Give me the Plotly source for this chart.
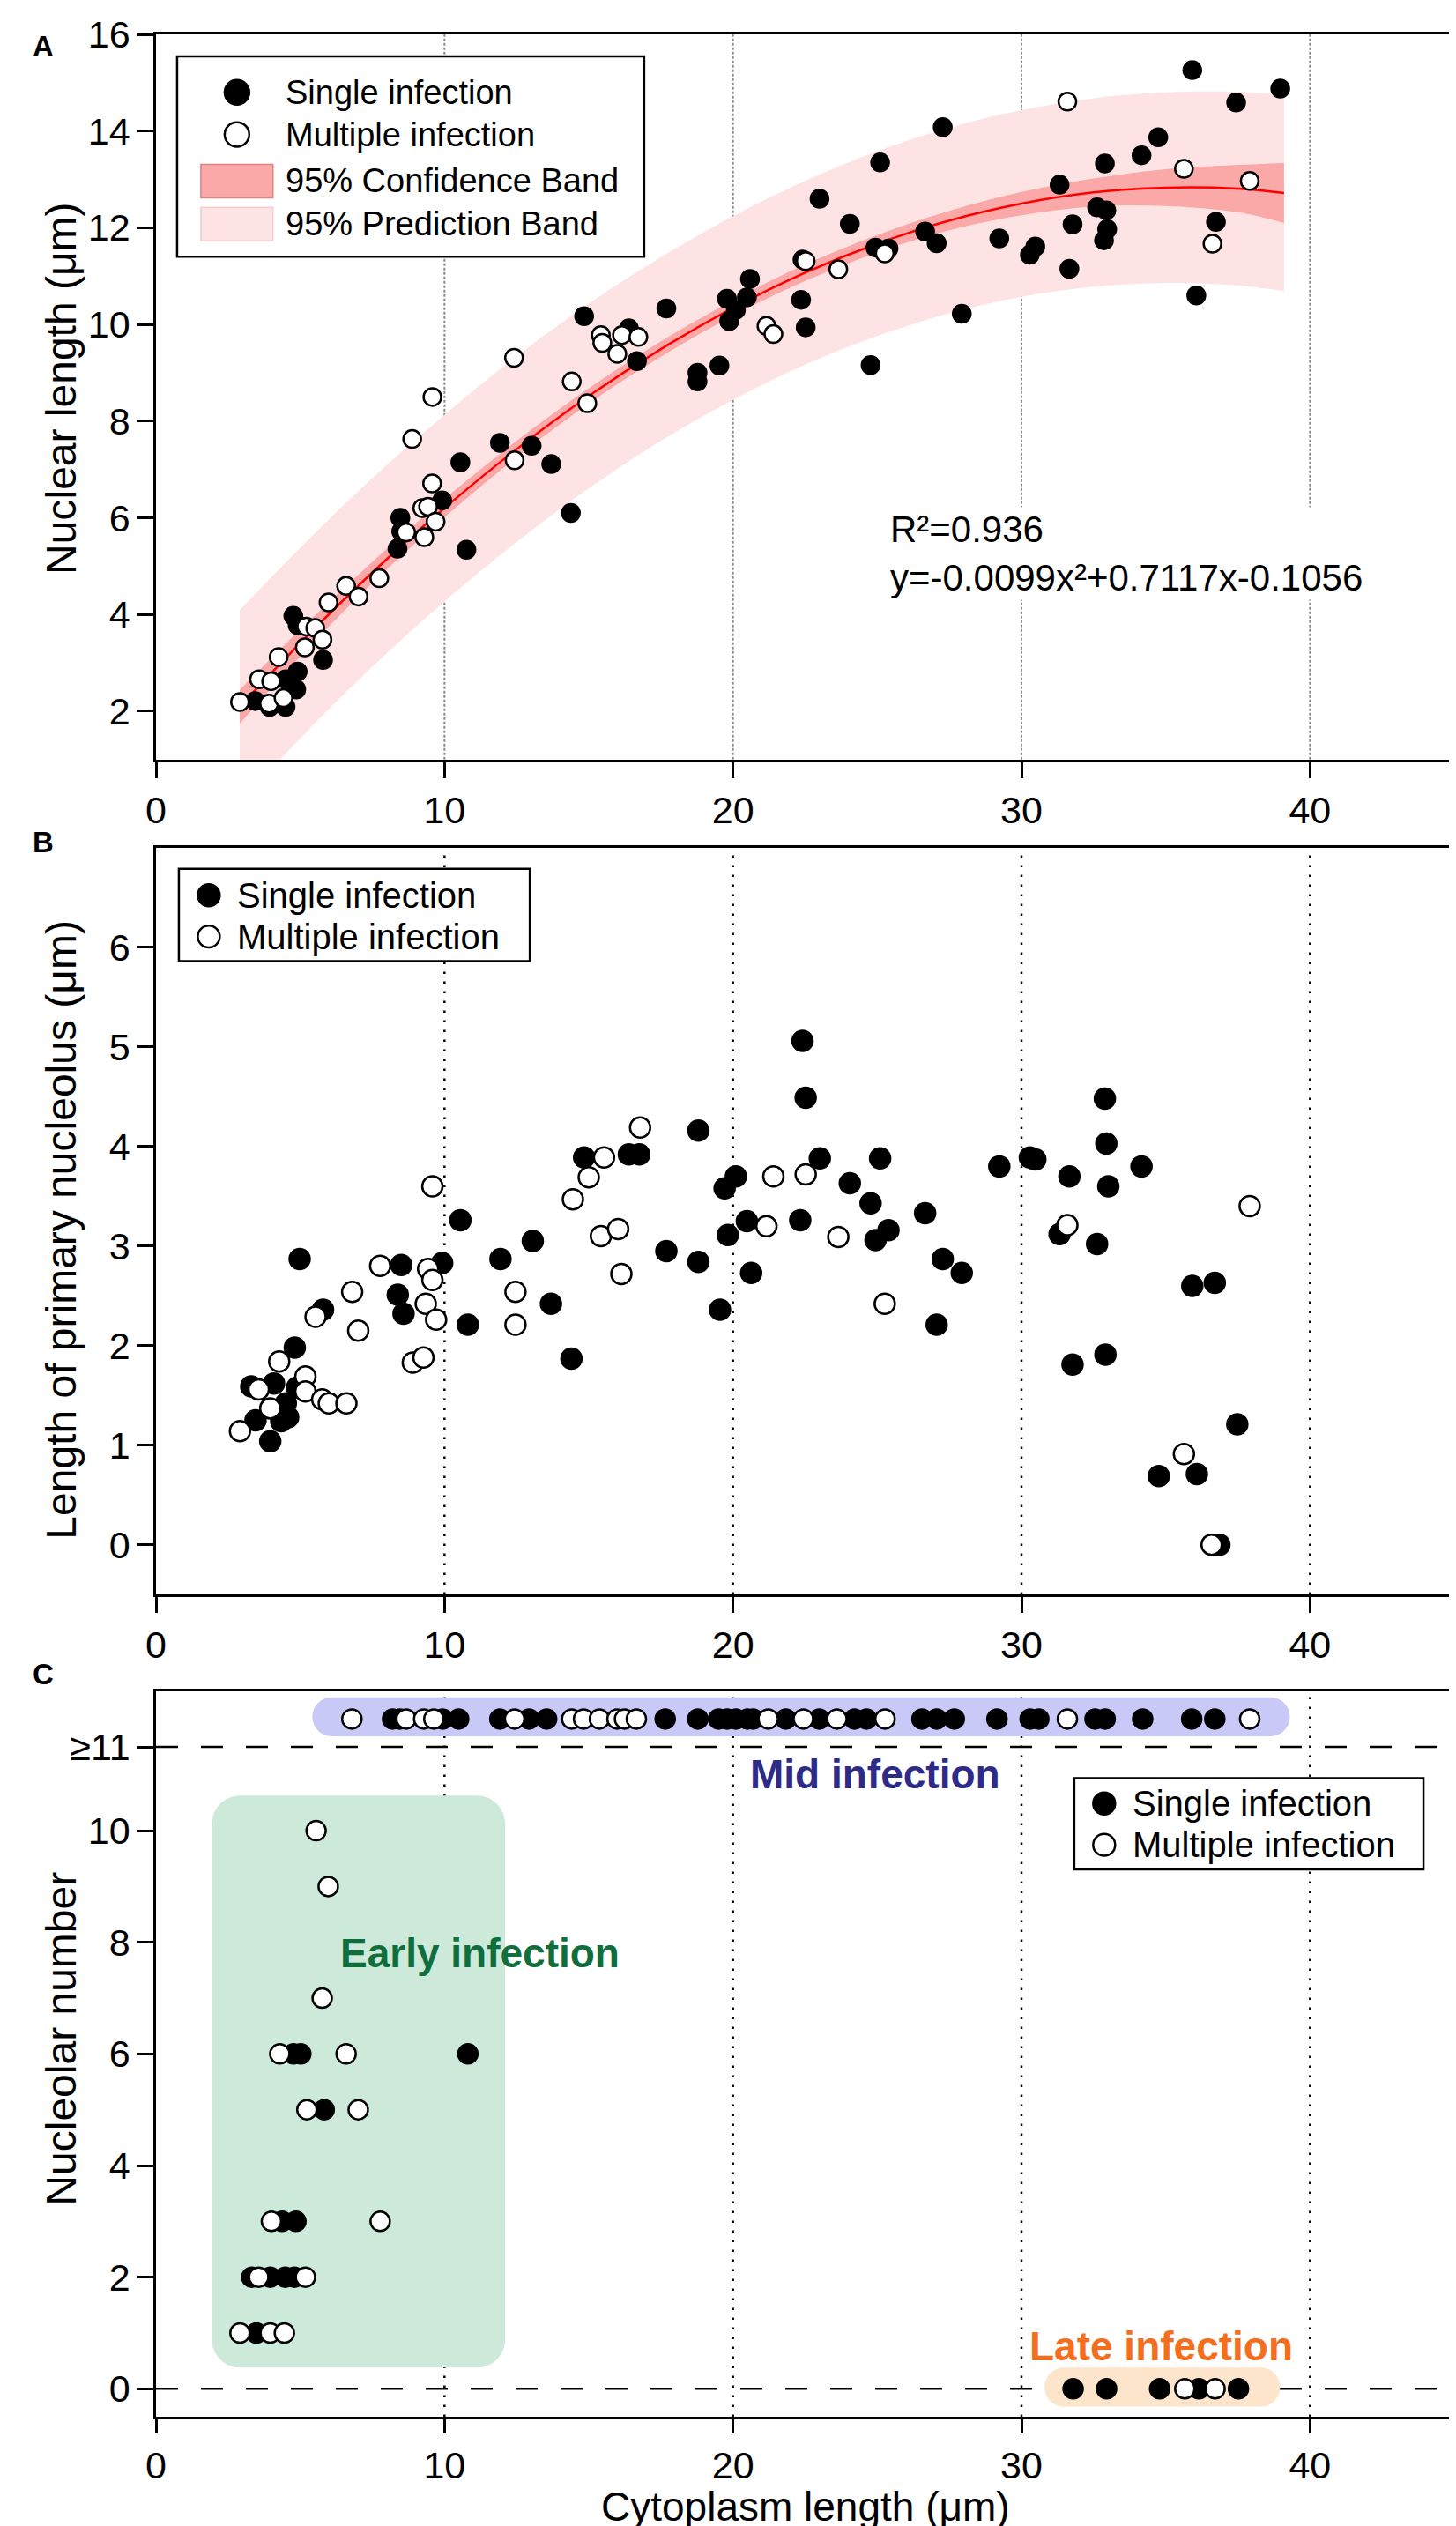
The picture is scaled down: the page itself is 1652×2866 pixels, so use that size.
import plotly.graph_objects as go

FONT = "Liberation Sans, Arial, sans-serif"

# ---------------- panel A : nuclear length vs cytoplasm length ----------------
a_single_x = [3.44, 3.94, 4.49, 4.50, 4.86, 4.91, 4.76, 4.91, 5.79, 8.37, 8.47, 8.50, 9.92, 10.55,
              10.76, 11.92, 13.02, 13.70, 14.38, 14.84, 16.39, 16.67, 17.69, 18.77, 18.77, 19.53,
              19.79, 19.87, 20.10, 20.48, 20.59, 22.36, 22.41, 22.52, 23.00, 24.05, 24.77, 24.94,
              25.10, 25.39, 26.66, 27.06, 27.27, 27.93, 29.23, 30.29, 30.48, 31.32, 31.66, 31.77,
              32.62, 32.86, 32.89, 32.94, 32.97, 34.16, 34.74, 35.92, 36.06, 36.74, 37.44, 38.97]
a_single_y = [2.21, 2.09, 2.09, 2.66, 2.45, 2.82, 3.97, 3.78, 3.06, 5.36, 6.00, 5.72, 6.36, 7.15,
              5.34, 7.55, 7.49, 7.11, 6.10, 10.17, 9.92, 9.24, 10.33, 9.00, 8.82, 9.15,
              10.53, 10.07, 10.30, 10.56, 10.94, 10.51, 11.34, 9.94, 12.60, 12.08, 9.16, 11.59,
              13.35, 11.57, 11.92, 11.68, 14.08, 10.22, 11.78, 11.44, 11.61, 12.89, 11.15, 12.07,
              12.42, 11.74, 13.33, 12.36, 11.97, 13.50, 13.87, 15.26, 10.60, 12.12, 14.59, 14.88]
a_multi_x = [2.91, 3.57, 3.99, 3.92, 4.42, 4.25, 5.16, 5.21, 5.52, 5.77, 5.98, 6.59, 7.02, 7.74,
             8.67, 8.88, 9.30, 9.23, 9.43, 9.58, 9.57, 9.69, 12.41, 12.43, 14.41, 14.95, 15.42,
             15.47, 15.99, 16.15, 16.72, 21.16, 21.40, 22.52, 23.65, 25.26, 31.59, 35.63, 36.62, 37.91]
a_multi_y = [2.19, 2.66, 2.62, 2.16, 2.27, 3.12, 3.32, 3.75, 3.72, 3.48, 4.25, 4.59, 4.37, 4.75,
             5.70, 7.63, 5.60, 6.20, 6.23, 8.50, 6.71, 5.92, 9.31, 7.19, 8.82, 8.37, 9.78,
             9.62, 9.39, 9.78, 9.74, 9.97, 9.80, 11.31, 11.14, 11.47, 14.61, 13.22, 11.67, 12.97]

# fitted curve and 95% bands
band_x = [2.9, 5, 7.5, 10, 12.5, 15, 17.5, 20, 22.5, 25, 27.5, 30, 32.5, 35, 37.5, 39.1]
fit_y = [2.09, 3.41, 4.87, 6.20, 7.42, 8.52, 9.49, 10.34, 11.07, 11.67, 12.15, 12.50, 12.73, 12.83, 12.81, 12.72]
conf_lo = [1.74, 3.13, 4.65, 6.01, 7.25, 8.36, 9.33, 10.18, 10.90, 11.49, 11.95, 12.26, 12.44, 12.45, 12.32, 12.10]
conf_hi = [2.44, 3.69, 5.09, 6.39, 7.59, 8.68, 9.65, 10.50, 11.24, 11.85, 12.35, 12.74, 13.02, 13.21, 13.30, 13.34]
pred_lo = [0.09, 1.44, 2.92, 4.27, 5.50, 6.61, 7.59, 8.44, 9.17, 9.76, 10.23, 10.57, 10.78, 10.86, 10.81, 10.69]
pred_hi = [4.09, 5.38, 6.82, 8.13, 9.34, 10.43, 11.39, 12.24, 12.97, 13.58, 14.07, 14.43, 14.68, 14.80, 14.81, 14.75]

# ---------------- panel B : length of primary nucleolus ----------------
b_single_x = [3.30, 3.45, 3.96, 4.09, 4.50, 4.34, 4.58, 4.81, 4.89, 4.98, 5.79, 8.50, 8.38, 8.58,
              9.92, 10.55, 10.81, 11.94, 13.06, 13.69, 14.40, 14.84, 16.39, 16.75, 17.69, 18.80,
              18.80, 19.55, 19.71, 19.82, 20.10, 20.48, 20.63, 22.41, 22.52, 22.33, 23.01, 24.05,
              24.77, 24.94, 25.10, 25.39, 26.66, 27.06, 27.27, 27.93, 29.23, 30.29, 30.48, 31.32,
              31.66, 31.77, 32.62, 32.89, 32.94, 33.01, 32.91, 34.16, 34.76, 35.92, 36.08, 36.70,
              36.75, 36.86, 37.48]
b_single_y = [1.59, 1.25, 1.04, 1.62, 1.42, 1.24, 1.28, 1.98, 1.58, 2.87, 2.36, 2.81, 2.51, 2.32,
              2.83, 3.26, 2.21, 2.87, 3.05, 2.42, 1.87, 3.89, 3.92, 3.92, 2.95, 4.16,
              2.84, 2.36, 3.58, 3.11, 3.70, 3.25, 2.73, 5.06, 4.49, 3.26, 3.88, 3.63,
              3.43, 3.06, 3.88, 3.16, 3.33, 2.21, 2.87, 2.73, 3.80, 3.89, 3.87, 3.12,
              3.70, 1.81, 3.02, 4.48, 4.03, 3.60, 1.91, 3.80, 0.69, 2.60, 0.71, 2.63,
              0.00, 0.00, 1.21]
b_multi_x = [2.91, 3.56, 3.96, 4.27, 5.18, 5.18, 5.53, 5.76, 5.99, 6.60, 6.80, 7.01, 7.77, 8.90,
             9.27, 9.35, 9.43, 9.58, 9.71, 9.58, 12.46, 12.46, 14.45, 15.00, 15.42, 15.53, 16.02,
             16.13, 16.78, 21.16, 21.40, 22.52, 23.65, 25.26, 31.59, 35.63, 36.59, 37.91]
b_multi_y = [1.14, 1.56, 1.37, 1.84, 1.69, 1.54, 2.29, 1.46, 1.42, 1.42, 2.54, 2.15, 2.80, 1.83,
             1.88, 2.42, 2.77, 2.66, 2.26, 3.60, 2.54, 2.21, 3.47, 3.69, 3.10, 3.89, 3.17,
             2.72, 4.19, 3.20, 3.70, 3.72, 3.09, 2.42, 3.21, 0.91, 0.00, 3.40]

# ---------------- panel C : nucleolar number (12 = ">=11") ----------------
c_single_x = [4.77, 5.02, 10.81, 5.83, 4.37, 4.85, 3.32, 3.96, 4.48, 4.80, 3.48,
              8.20, 8.45, 9.94, 10.49, 11.92, 12.93, 13.54, 17.65, 18.78, 19.50, 19.80, 20.10,
              20.50, 20.70, 21.83, 22.99, 24.21, 24.63, 26.55, 27.06, 27.67, 29.15, 30.30, 30.60,
              32.55, 32.90, 34.20, 35.90, 36.70,
              31.79, 32.95, 34.79, 36.15, 37.52]
c_single_y = [6, 6, 6, 5, 3, 3, 2, 2, 2, 2, 1,
              12, 12, 12, 12, 12, 12, 12, 12, 12, 12, 12, 12,
              12, 12, 12, 12, 12, 12, 12, 12, 12, 12, 12, 12,
              12, 12, 12, 12, 12,
              0, 0, 0, 0, 0]
c_multi_x = [5.55, 5.97, 5.76, 4.29, 6.59, 5.23, 7.01, 4.00, 7.77, 3.56, 5.18, 2.91, 3.96, 4.45,
             6.79, 8.67, 9.28, 9.63, 12.43, 14.41, 14.82, 15.37, 15.98, 16.24, 16.65, 21.22,
             22.44, 23.60, 25.27, 31.59, 37.91,
             35.66, 36.71]
c_multi_y = [10, 9, 7, 6, 6, 5, 5, 3, 3, 2, 2, 1, 1, 1,
             12, 12, 12, 12, 12, 12, 12, 12, 12, 12, 12, 12,
             12, 12, 12, 12, 12,
             0, 0]
c_tickvals = [0, 2, 4, 6, 8, 10, 11.5]
c_ticktext = ["0", "2", "4", "6", "8", "10", "≥11"]

x_ticks = [0, 10, 20, 30, 40]

# page geometry (pixels) of the plot area
W, H = 1652, 2866
LEFT, RIGHT, TOP, BOTTOM = 169, 1645, 22, 2734
X_PX = (RIGHT - LEFT) / 45.0

PINK_DARK = "rgb(250,168,168)"
PINK_LIGHT = "rgb(253,227,227)"


def fx(px):
    return (px - LEFT) / (RIGHT - LEFT)


def fy(py):
    return (BOTTOM - py) / (BOTTOM - TOP)


def paper_box(x0, y0, x1, y1):
    return dict(xref="paper", yref="paper", x0=fx(x0), x1=fx(x1), y0=fy(y1), y1=fy(y0))


def rounded_box(x0, x1, y0, y1, r_px, y_px):
    # rounded rectangle path in data units of panel C
    rx, ry, k = r_px / X_PX, r_px / y_px, 0.45
    return (f"M {x0 + rx},{y0} L {x1 - rx},{y0} "
            f"C {x1 - rx * k},{y0} {x1},{y0 + ry * k} {x1},{y0 + ry} "
            f"L {x1},{y1 - ry} C {x1},{y1 - ry * k} {x1 - rx * k},{y1} {x1 - rx},{y1} "
            f"L {x0 + rx},{y1} C {x0 + rx * k},{y1} {x0},{y1 - ry * k} {x0},{y1 - ry} "
            f"L {x0},{y0 + ry} C {x0},{y0 + ry * k} {x0 + rx * k},{y0} {x0 + rx},{y0} Z")


def points(x, y, filled, size, name, xa, ya):
    return go.Scatter(
        x=x, y=y, mode="markers", name=name, xaxis=xa, yaxis=ya, showlegend=False,
        marker=dict(size=size, color="black" if filled else "white",
                    line=dict(color="black", width=2.5)),
    )


fig = go.Figure()

# panel A bands and fit
fig.add_trace(go.Scatter(x=band_x, y=pred_lo, mode="lines", line=dict(width=0, shape="spline"),
                         showlegend=False, hoverinfo="skip"))
fig.add_trace(go.Scatter(x=band_x, y=pred_hi, mode="lines", line=dict(width=0, shape="spline"),
                         fill="tonexty", fillcolor=PINK_LIGHT, name="95% Prediction Band", showlegend=False))
fig.add_trace(go.Scatter(x=band_x, y=conf_lo, mode="lines", line=dict(width=0, shape="spline"),
                         showlegend=False, hoverinfo="skip"))
fig.add_trace(go.Scatter(x=band_x, y=conf_hi, mode="lines", line=dict(width=0, shape="spline"),
                         fill="tonexty", fillcolor=PINK_DARK, name="95% Confidence Band", showlegend=False))
fig.add_trace(go.Scatter(x=band_x, y=fit_y, mode="lines", line=dict(color="red", width=2.5, shape="spline"),
                         showlegend=False))
fig.add_trace(points(a_single_x, a_single_y, True, 20, "Single infection", "x", "y"))
fig.add_trace(points(a_multi_x, a_multi_y, False, 20, "Multiple infection", "x", "y"))

# panel B
fig.add_trace(points(b_single_x, b_single_y, True, 23, "Single infection", "x2", "y2"))
fig.add_trace(points(b_multi_x, b_multi_y, False, 23, "Multiple infection", "x2", "y2"))

# panel C
fig.add_trace(points(c_single_x, c_single_y, True, 22, "Single infection", "x3", "y3"))
fig.add_trace(points(c_multi_x, c_multi_y, False, 22, "Multiple infection", "x3", "y3"))

axis_style = dict(showline=True, linecolor="black", linewidth=2.5, mirror=True, ticks="outside",
                  ticklen=18, tickwidth=2.5, tickcolor="black", showgrid=False, zeroline=False,
                  tickfont=dict(size=43, color="black"), ticklabeloverflow="allow")

dom_a = [fy(847.5), 1.0]
dom_b = [fy(1798), fy(948)]
dom_c = [0.0, fy(1908)]

fig.update_layout(
    xaxis=dict(axis_style, range=[0, 45], tickvals=x_ticks, anchor="y"),
    yaxis=dict(axis_style, range=[1, 16], tickvals=[2, 4, 6, 8, 10, 12, 14, 16], domain=dom_a, anchor="x"),
    xaxis2=dict(axis_style, range=[0, 45], tickvals=x_ticks, anchor="y2"),
    yaxis2=dict(axis_style, range=[-0.5, 7], tickvals=[0, 1, 2, 3, 4, 5, 6], domain=dom_b, anchor="x2"),
    xaxis3=dict(axis_style, range=[0, 45], tickvals=x_ticks, anchor="y3", ticklen=16),
    yaxis3=dict(axis_style, range=[-0.5, 12.5], tickvals=c_tickvals, ticktext=c_ticktext,
                domain=dom_c, anchor="x3"),
    showlegend=False,
)

shapes = []
ann = []

# dashed category lines in panel C
for yv in [0, 11.5]:
    shapes.append(dict(type="line", xref="x3 domain", yref="y3", x0=0, x1=1, y0=yv, y1=yv,
                       line=dict(color="black", width=2.5, dash="25px,26px"), layer="below"))
# region boxes in panel C
c_ypx = (BOTTOM - 1908) / 13.0
shapes.append(dict(type="path", xref="x3", yref="y3", layer="below", line=dict(width=0),
                   fillcolor="rgb(205,233,218)", path=rounded_box(1.94, 12.1, 0.38, 10.63, 32, c_ypx)))
shapes.append(dict(type="path", xref="x3", yref="y3", layer="below", line=dict(width=0),
                   fillcolor="rgb(201,201,248)", path=rounded_box(5.42, 39.3, 11.69, 12.39, 22, c_ypx)))
shapes.append(dict(type="path", xref="x3", yref="y3", layer="below", line=dict(width=0),
                   fillcolor="rgb(252,229,202)", path=rounded_box(30.8, 38.96, -0.32, 0.38, 22, c_ypx)))
# vertical reference lines
for xv in [10, 20, 30, 40]:
    shapes.append(dict(type="line", xref="x", yref="y domain", x0=xv, x1=xv, y0=0, y1=1,
                       line=dict(color="#8a8a8a", width=2, dash="3px,2px"), layer="below"))
    for ax in ["2", "3"]:
        shapes.append(dict(type="line", xref="x" + ax, yref=f"y{ax} domain", x0=xv, x1=xv, y0=0, y1=1,
                           line=dict(color="black", width=2.5, dash="2.5px,8.5px"), layer="below"))


# legends drawn as boxes with keys (pixel geometry of the page)
def add_legend(box, key_x, text_x, rows, key_d, font_size):
    shapes.append(dict(paper_box(*box), type="rect", fillcolor="white",
                       line=dict(color="black", width=2.5), layer="above"))
    for kind, label, ry in rows:
        if kind in ("filled", "open"):
            r = key_d / 2
            shapes.append(dict(paper_box(key_x - r, ry - r, key_x + r, ry + r), type="circle",
                               fillcolor="black" if kind == "filled" else "white",
                               line=dict(color="black", width=2.5), layer="above"))
        else:
            fill, edge = (PINK_DARK, "rgb(222,130,130)") if kind == "conf" else (PINK_LIGHT, "rgb(245,205,205)")
            shapes.append(dict(paper_box(key_x - 41, ry - 19, key_x + 41, ry + 19), type="rect",
                               fillcolor=fill, line=dict(color=edge, width=1.5), layer="above"))
        ann.append(dict(xref="paper", yref="paper", x=fx(text_x), y=fy(ry), text=label,
                        xanchor="left", yanchor="middle", showarrow=False,
                        font=dict(size=font_size, color="black")))


add_legend((193, 47, 724, 275), 261, 314,
           [("filled", "Single infection", 88), ("open", "Multiple infection", 136),
            ("conf", "95% Confidence Band", 189), ("pred", "95% Prediction Band", 238)], 28, 38)
add_legend((195, 972, 594, 1077), 229, 259,
           [("filled", "Single infection", 1002), ("open", "Multiple infection", 1049)], 25, 40)
add_legend((1213, 2007, 1610, 2111), 1247, 1277,
           [("filled", "Single infection", 2036), ("open", "Multiple infection", 2083)], 25, 40)

fig.update_layout(shapes=shapes)

title_font = dict(size=48, color="black")
for text, py in [("Nuclear length (μm)", 425), ("Length of primary nucleolus (μm)", 1383),
                 ("Nucleolar number", 2304)]:
    ann.append(dict(xref="paper", yref="paper", x=fx(61), y=fy(py), text=text, textangle=-90,
                    xanchor="center", yanchor="middle", showarrow=False, font=title_font))
ann.append(dict(xref="paper", yref="paper", x=0.5, y=fy(2864), text="Cytoplasm length (μm)",
                xanchor="center", yanchor="bottom", showarrow=False, font=dict(size=46, color="black")))
for letter, py in [("A", 36), ("B", 942), ("C", 1889)]:
    ann.append(dict(xref="paper", yref="paper", x=fx(41), y=fy(py), text="<b>" + letter + "</b>",
                    xanchor="center", yanchor="middle", showarrow=False, font=dict(size=33, color="black")))
ann.append(dict(xref="x", yref="y", x=25.4, y=5.26, xanchor="left", yanchor="middle", align="left",
                showarrow=False, text="R²=0.936<br>y=-0.0099x²+0.7117x-0.1056", bgcolor="white",
                font=dict(size=42, color="black")))
ann.append(dict(xref="x3", yref="y3", x=11.22, y=7.8, text="<b>Early infection</b>", showarrow=False,
                xanchor="center", yanchor="middle", font=dict(size=46, color="rgb(16,110,60)")))
ann.append(dict(xref="x3", yref="y3", x=24.93, y=11.01, text="<b>Mid infection</b>", showarrow=False,
                xanchor="center", yanchor="middle", font=dict(size=46, color="rgb(46,42,135)")))
ann.append(dict(xref="x3", yref="y3", x=34.85, y=0.76, text="<b>Late infection</b>", showarrow=False,
                xanchor="center", yanchor="middle", font=dict(size=46, color="rgb(245,110,30)")))
fig.update_layout(annotations=ann)

fig.update_layout(
    width=W, height=H,
    margin=dict(l=LEFT, r=W - RIGHT, t=TOP, b=H - BOTTOM),
    paper_bgcolor="white", plot_bgcolor="white",
    font=dict(family=FONT, color="black"),
)

fig.write_html("out.html")
